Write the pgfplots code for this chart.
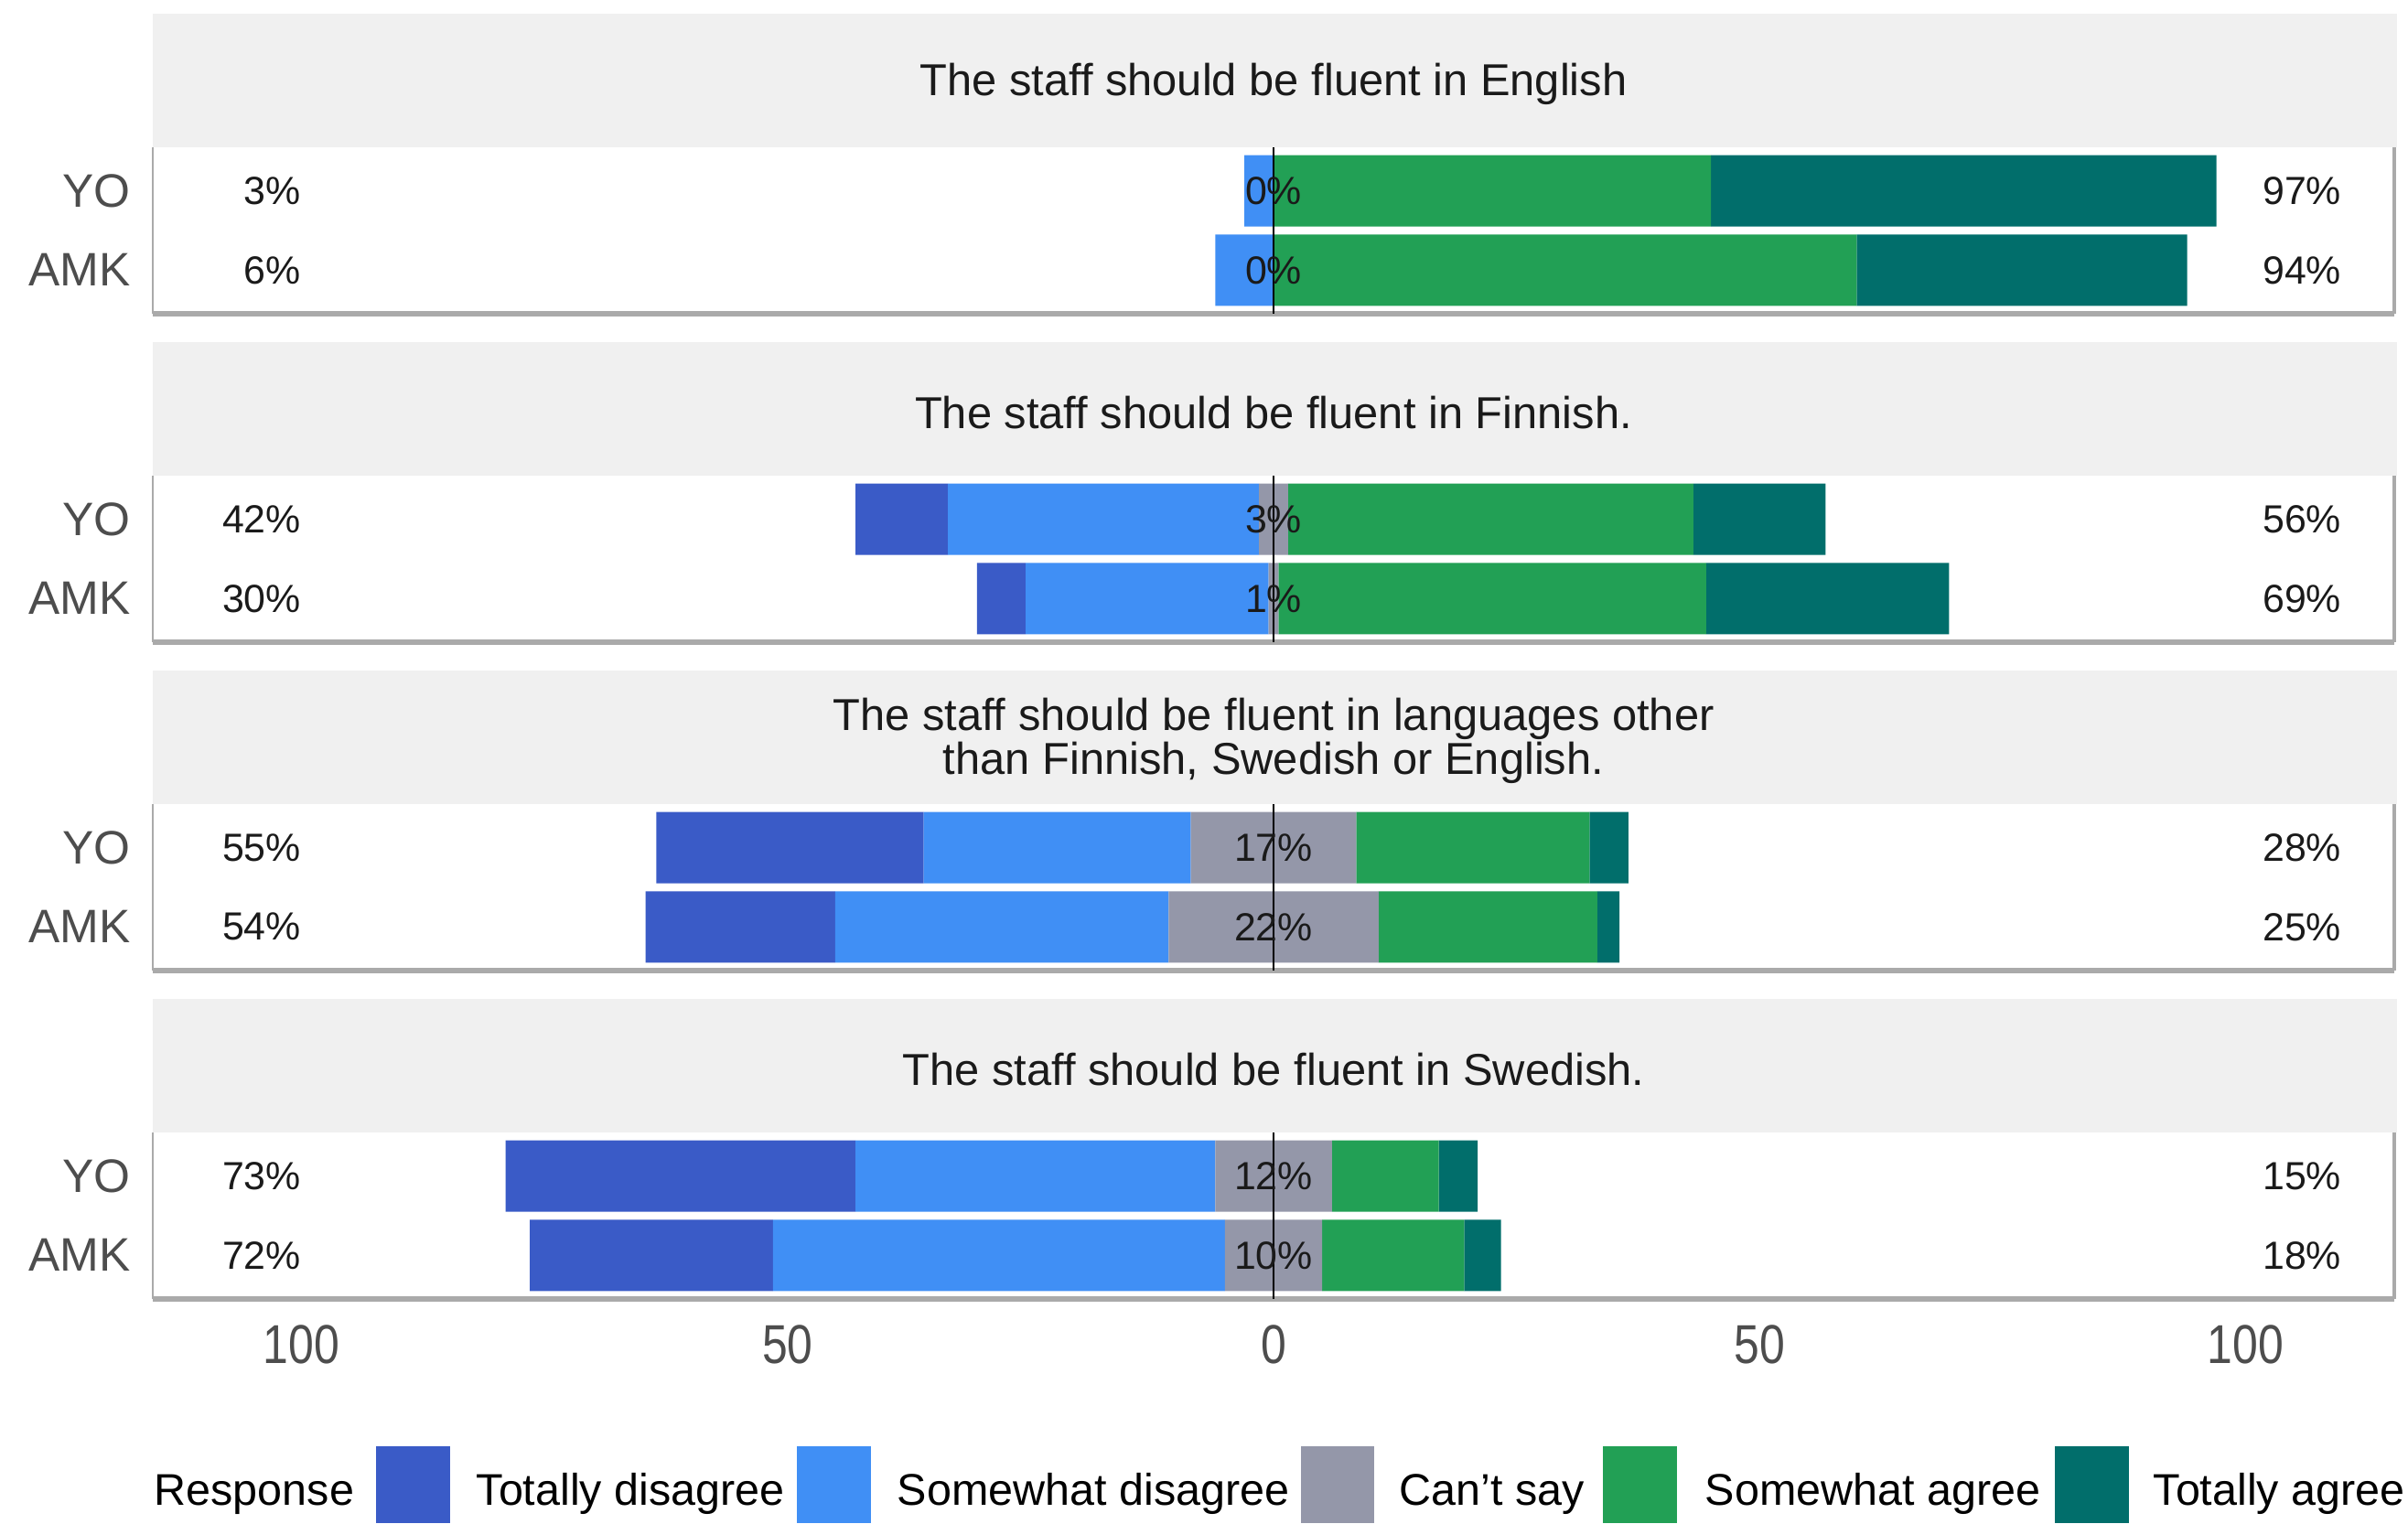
\documentclass[border=0pt]{standalone}
\usepackage{pgfplots}
\pgfplotsset{compat=1.18}
\usepackage{pgfplotstable}
\usepackage{fontspec}
\setmainfont{Liberation Sans}
\usepackage{graphicx}

\definecolor{cTD}{HTML}{3A5BC7}
\definecolor{cSD}{HTML}{408FF5}
\definecolor{cN}{HTML}{9497A9}
\definecolor{cSA}{HTML}{22A055}
\definecolor{cTA}{HTML}{016E6B}
\definecolor{stripgray}{HTML}{F0F0F0}
\definecolor{axline}{HTML}{AAAAAA}
\definecolor{axtext}{HTML}{4D4D4D}
\definecolor{titlecol}{HTML}{1A1A1A}

\newcommand\tl[1]{\scalebox{1}[1.2]{#1}}

% columns: y (2 = YO, 1 = AMK), then the five responses in percent
\pgfplotstableread{
y TD SD N SA TA
2 0 3 0 45 52
1 0 6 0 60 34
}\tabEng
\pgfplotstableread{
y TD SD N SA TA
2 9.5 32 3 41.7 13.6
1 5 25 1 44 25
}\tabFin
\pgfplotstableread{
y TD SD N SA TA
2 27.5 27.5 17 24 4
1 19.5 34.3 21.6 22.5 2.3
}\tabOth
\pgfplotstableread{
y TD SD N SA TA
2 36 37 12 11 4
1 25 46.5 10 14.6 3.8
}\tabSwe

\tikzset{pct/.style={font=\fontsize{12.2}{13}\selectfont, text=titlecol, inner sep=0pt}}

\pgfplotsset{
  facet/.style={
    scale only axis, width=24.50cm, height=1.82cm,
    anchor=south west,
    xmin=-115.3, xmax=115.3, ymin=0.45, ymax=2.55,
    xbar stacked, bar width=0.9,
    ytick={1,2}, yticklabels={AMK,YO},
    xtick={-100,-50,0,50,100}, xticklabels={},
    major tick length=0pt,
    axis line style={draw=none},
    clip=false,
    yticklabel style={anchor=east, inner sep=0pt, xshift=-0.24cm,
      font=\fontsize{14.6}{15}\selectfont, text=axtext},
    xticklabel style={anchor=north, inner sep=0pt, yshift=-0.28cm,
      font=\fontsize{14.2}{15}\selectfont, text=axtext},
  },
}

% negative values stack on the left, positive values on the right
\newcommand\bars[1]{%
  \addplot[fill=cN,  draw=none] table[x expr=-\thisrow{N}/2, y=y]{#1};
  \addplot[fill=cN,  draw=none] table[x expr=\thisrow{N}/2, y=y]{#1};
  \addplot[fill=cSD, draw=none] table[x expr=-\thisrow{SD}, y=y]{#1};
  \addplot[fill=cSA, draw=none] table[x=SA, y=y]{#1};
  \addplot[fill=cTD, draw=none] table[x expr=-\thisrow{TD}, y=y]{#1};
  \addplot[fill=cTA, draw=none] table[x=TA, y=y]{#1};
  \coordinate (L2) at (axis cs:-100,2);
  \coordinate (L1) at (axis cs:-100,1);
  \coordinate (C2) at (axis cs:0,2);
  \coordinate (C1) at (axis cs:0,1);
  \coordinate (R2) at (axis cs:101.7,2);
  \coordinate (R1) at (axis cs:101.7,1);
  \coordinate (Ztop) at (axis cs:0,2.55);
  \coordinate (Zbot) at (axis cs:0,0.45);
}
\newcommand\deco[7]{%
  \draw[axline, line width=0.6pt] (#1.south west) -- (#1.north west);
  \draw[axline, line width=0.9pt] (#1.south east) -- (#1.north east);
  \draw[axline, line width=1.8pt] (#1.south west) -- (#1.south east);
  \draw[black, line width=0.6pt] (Zbot) -- (Ztop);
  \node[pct, anchor=east] at (L2) {#2\%};
  \node[pct, anchor=east] at (L1) {#3\%};
  \node[pct] at (C2) {#4\%};
  \node[pct] at (C1) {#5\%};
  \node[pct, anchor=west] at (R2) {#6\%};
  \node[pct, anchor=west] at (R1) {#7\%};
}

\begin{document}
\begin{tikzpicture}[x=1cm, y=1cm]
\useasboundingbox (0,0) rectangle (26.32,16.65);
\tikzset{ttl/.style={font=\fontsize{13.9}{13.6}\selectfont, text=titlecol, align=center}}
% facet strips
\fill[stripgray] (1.67,15.04) rectangle (26.20,16.50);
\fill[stripgray] (1.67,11.45) rectangle (26.20,12.91);
\fill[stripgray] (1.67,7.86) rectangle (26.20,9.32);
\fill[stripgray] (1.67,4.27) rectangle (26.20,5.73);
\node[ttl] at (13.92,15.73) {The staff should be fluent in English};
\node[ttl] at (13.92,12.14) {The staff should be fluent in Finnish.};
\node[ttl] at (13.92,8.55) {The staff should be fluent in languages other\\than Finnish, Swedish or English.};
\node[ttl] at (13.92,4.96) {The staff should be fluent in Swedish.};

\begin{axis}[facet, name=a1, at={(1.67cm,13.22cm)}]
\bars{\tabEng}
\end{axis}
\deco{a1}{3}{6}{0}{0}{97}{94}

\begin{axis}[facet, name=a2, at={(1.67cm,9.63cm)}]
\bars{\tabFin}
\end{axis}
\deco{a2}{42}{30}{3}{1}{56}{69}

\begin{axis}[facet, name=a3, at={(1.67cm,6.04cm)}]
\bars{\tabOth}
\end{axis}
\deco{a3}{55}{54}{17}{22}{28}{25}

\begin{axis}[facet, name=a4, at={(1.67cm,2.45cm)},
  xticklabels={\tl{100},\tl{50},\tl{0},\tl{50},\tl{100}}]
\bars{\tabSwe}
\end{axis}
\deco{a4}{73}{72}{12}{10}{15}{18}

% legend
\tikzset{lg/.style={font=\fontsize{13.8}{14}\selectfont, text=black, inner sep=0pt, anchor=base west}}
\node[lg] at (1.68,0.195) {Response};
\fill[cTD] (4.11,0) rectangle (4.92,0.84);
\node[lg] at (5.20,0.195) {Totally disagree};
\fill[cSD] (8.71,0) rectangle (9.52,0.84);
\node[lg] at (9.80,0.195) {Somewhat disagree};
\fill[cN] (14.22,0) rectangle (15.02,0.84);
\node[lg] at (15.29,0.195) {Can't say};
\fill[cSA] (17.52,0) rectangle (18.33,0.84);
\node[lg] at (18.63,0.195) {Somewhat agree};
\fill[cTA] (22.46,0) rectangle (23.27,0.84);
\node[lg] at (23.53,0.195) {Totally agree};
\end{tikzpicture}
\end{document}
